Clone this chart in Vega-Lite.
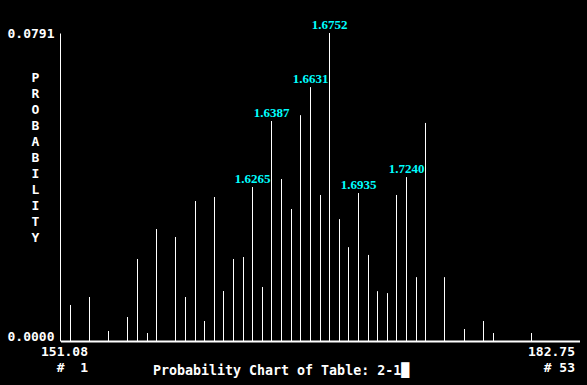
{
  "$schema": "https://vega.github.io/schema/vega-lite/v6.json",
  "width": 519,
  "height": 308,
  "autosize": {"type": "none"},
  "padding": {"left": 60.5, "top": 33, "right": 7.5, "bottom": 44},
  "background": "#000000",
  "config": {"view": {"stroke": null}},
  "data": {
    "values": [
      {"bin": 1, "prob": 0.00925},
      {"bin": 3, "prob": 0.0113},
      {"bin": 5, "prob": 0.00257},
      {"bin": 7, "prob": 0.00616},
      {"bin": 8, "prob": 0.02106},
      {"bin": 9, "prob": 0.00205},
      {"bin": 10, "prob": 0.02876},
      {"bin": 12, "prob": 0.02671},
      {"bin": 13, "prob": 0.0113},
      {"bin": 14, "prob": 0.03595},
      {"bin": 15, "prob": 0.00514},
      {"bin": 16, "prob": 0.03698},
      {"bin": 17, "prob": 0.01284},
      {"bin": 18, "prob": 0.02106},
      {"bin": 19, "prob": 0.02157},
      {"bin": 20, "prob": 0.03955, "label": "1.6265"},
      {"bin": 21, "prob": 0.01387},
      {"bin": 22, "prob": 0.0565, "label": "1.6387"},
      {"bin": 23, "prob": 0.0416},
      {"bin": 24, "prob": 0.0339},
      {"bin": 25, "prob": 0.058},
      {"bin": 26, "prob": 0.0652, "label": "1.6631"},
      {"bin": 27, "prob": 0.0375},
      {"bin": 28, "prob": 0.0791, "label": "1.6752"},
      {"bin": 29, "prob": 0.0313},
      {"bin": 30, "prob": 0.0241},
      {"bin": 31, "prob": 0.038, "label": "1.6935"},
      {"bin": 32, "prob": 0.0221},
      {"bin": 33, "prob": 0.0128},
      {"bin": 34, "prob": 0.0123},
      {"bin": 35, "prob": 0.0375},
      {"bin": 36, "prob": 0.0421, "label": "1.7240"},
      {"bin": 37, "prob": 0.0164},
      {"bin": 38, "prob": 0.056},
      {"bin": 40, "prob": 0.0164},
      {"bin": 42, "prob": 0.00308},
      {"bin": 44, "prob": 0.00514},
      {"bin": 45, "prob": 0.00205},
      {"bin": 49, "prob": 0.00205}
    ]
  },
  "encoding": {
    "x": {
      "field": "bin",
      "type": "quantitative",
      "scale": {"domain": [0, 54], "nice": false, "zero": false, "round": true},
      "axis": {
        "values": [0, 54],
        "grid": false,
        "ticks": false,
        "domainColor": "#ffffff",
        "domainWidth": 2,
        "labelExpr": "datum.value == 0 ? ['151.08', '#\u00a0\u00a01'] : ['182.75', '#\u00a053']",
        "labelAlign": "right",
        "labelBaseline": "top",
        "labelOffset": {"condition": {"test": "datum.value == 0", "value": 27}, "value": -5},
        "labelPadding": 4,
        "labelLineHeight": 16,
        "labelFont": "DejaVu Sans Mono",
        "labelFontSize": 13,
        "labelFontWeight": "bold",
        "labelColor": "#ffffff",
        "labelOverlap": false,
        "labelFlush": false,
        "title": "Probability Chart of Table: 2-1█",
        "titleFont": "DejaVu Sans Mono",
        "titleFontSize": 13.3,
        "titleFontWeight": "bold",
        "titleColor": "#ffffff",
        "titleAlign": "left",
        "titleAnchor": "start",
        "titleBaseline": "alphabetic",
        "titleX": 92,
        "titleY": 33
      }
    },
    "y": {
      "field": "prob",
      "type": "quantitative",
      "scale": {"domain": [0, 0.0791], "nice": false, "zero": true},
      "axis": {
        "values": [0, 0.0791],
        "format": ".4f",
        "offset": 0.5,
        "grid": false,
        "ticks": false,
        "domainColor": "#ffffff",
        "domainWidth": 1,
        "labelFont": "DejaVu Sans Mono",
        "labelFontSize": 13,
        "labelFontWeight": "bold",
        "labelColor": "#ffffff",
        "labelPadding": 6,
        "labelBaseline": "middle",
        "labelOffset": {"condition": {"test": "datum.value == 0", "value": -5}, "value": 0},
        "labelOverlap": false,
        "labelFlush": false,
        "title": ["P", "R", "O", "B", "A", "B", "I", "L", "I", "T", "Y"],
        "titleFont": "DejaVu Sans Mono",
        "titleFontSize": 13,
        "titleFontWeight": "bold",
        "titleColor": "#ffffff",
        "titleAngle": 0,
        "titleAlign": "center",
        "titleBaseline": "top",
        "titleLineHeight": 16,
        "titleX": -25,
        "titleY": 38
      }
    }
  },
  "layer": [
    {
      "mark": {"type": "rule", "color": "#ffffff", "strokeWidth": 1},
      "encoding": {"y2": {"datum": 0}}
    },
    {
      "transform": [{"filter": "isValid(datum.label)"}],
      "mark": {
        "type": "text",
        "color": "#00ffff",
        "font": "Liberation Serif",
        "fontSize": 13,
        "fontWeight": "bold",
        "baseline": "alphabetic",
        "align": "center",
        "dy": -4
      },
      "encoding": {"text": {"field": "label"}}
    }
  ]
}
